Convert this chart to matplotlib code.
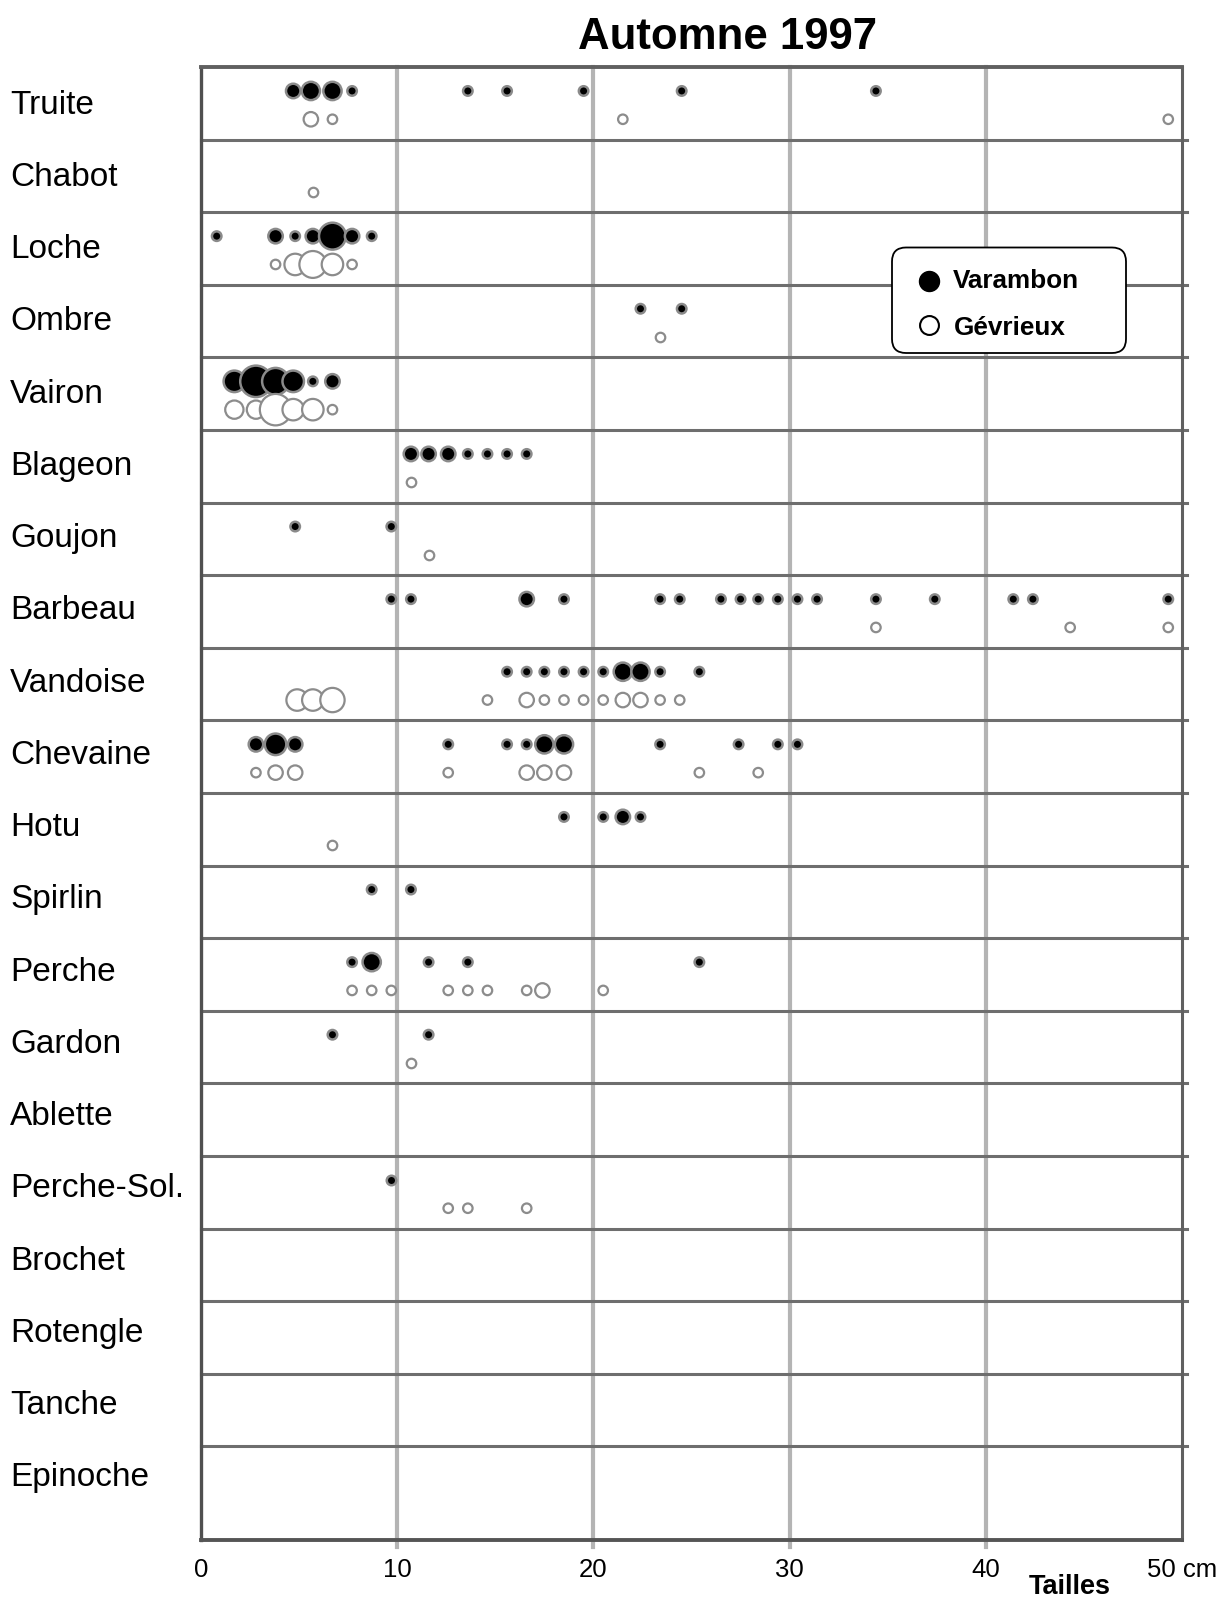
import numpy as np
import matplotlib.pyplot as plt
from matplotlib.patches import FancyBboxPatch
from matplotlib.lines import Line2D
import matplotlib.transforms as mtransforms

plt.rcParams['font.family'] = ['Liberation Sans', 'DejaVu Sans']

especes = ['Truite', 'Chabot', 'Loche', 'Ombre', 'Vairon', 'Blageon', 'Goujon',
           'Barbeau', 'Vandoise', 'Chevaine', 'Hotu', 'Spirlin', 'Perche',
           'Gardon', 'Ablette', 'Perche-Sol.', 'Brochet', 'Rotengle', 'Tanche',
           'Epinoche']

# Varambon : tailles (cm) et effectifs, une liste par espece
var_tailles = [
    [4.7, 5.6, 6.7, 7.7, 13.6, 15.6, 19.5, 24.5, 34.4],          # Truite
    [],                                                          # Chabot
    [0.8, 3.8, 4.8, 5.7, 6.7, 7.7, 8.7],                         # Loche
    [22.4, 24.5],                                                # Ombre
    [1.7, 2.8, 3.8, 4.7, 5.7, 6.7],                              # Vairon
    [10.7, 11.6, 12.6, 13.6, 14.6, 15.6, 16.6],                  # Blageon
    [4.8, 9.7],                                                  # Goujon
    [9.7, 10.7, 16.6, 18.5, 23.4, 24.4, 26.5, 27.5, 28.4, 29.4,
     30.4, 31.4, 34.4, 37.4, 41.4, 42.4, 49.3],                  # Barbeau
    [15.6, 16.6, 17.5, 18.5, 19.5, 20.5, 21.5, 22.4, 23.4, 25.4],  # Vandoise
    [2.8, 3.8, 4.8, 12.6, 15.6, 16.6, 17.5, 18.5, 23.4, 27.4, 29.4, 30.4],  # Chevaine
    [18.5, 20.5, 21.5, 22.4],                                    # Hotu
    [8.7, 10.7],                                                 # Spirlin
    [7.7, 8.7, 11.6, 13.6, 25.4],                                # Perche
    [6.7, 11.6],                                                 # Gardon
    [],                                                          # Ablette
    [9.7],                                                       # Perche-Sol.
    [], [], [], [],
]
var_effectifs = [
    [2, 3, 3, 1, 1, 1, 1, 1, 1],
    [],
    [1, 2, 1, 2, 6, 2, 1],
    [1, 1],
    [4, 8, 6, 4, 1, 2],
    [2, 2, 2, 1, 1, 1, 1],
    [1, 1],
    [1, 1, 2, 1, 1, 1, 1, 1, 1, 1, 1, 1, 1, 1, 1, 1, 1],
    [1, 1, 1, 1, 1, 1, 3, 3, 1, 1],
    [2, 4, 2, 1, 1, 1, 3, 3, 1, 1, 1, 1],
    [1, 1, 2, 1],
    [1, 1],
    [1, 3, 1, 1, 1],
    [1, 1],
    [],
    [1],
    [], [], [], [],
]

# Gevrieux
gev_tailles = [
    [5.6, 6.7, 21.5, 49.3],
    [5.7],
    [3.8, 4.8, 5.7, 6.7, 7.7],
    [23.4],
    [1.7, 2.8, 3.8, 4.7, 5.7, 6.7],
    [10.7],
    [11.6],
    [34.4, 44.3, 49.3],
    [4.9, 5.7, 6.7, 14.6, 16.6, 17.5, 18.5, 19.5, 20.5, 21.5, 22.4, 23.4, 24.4],
    [2.8, 3.8, 4.8, 12.6, 16.6, 17.5, 18.5, 25.4, 28.4],
    [6.7],
    [],
    [7.7, 8.7, 9.7, 12.6, 13.6, 14.6, 16.6, 17.4, 20.5],
    [10.7],
    [],
    [12.6, 13.6, 16.6],
    [], [], [], [],
]
gev_effectifs = [
    [2, 1, 1, 1],
    [1],
    [1, 4, 6, 4, 1],
    [1],
    [3, 3, 8, 4, 4, 1],
    [1],
    [1],
    [1, 1, 1],
    [4, 4, 5, 1, 2, 1, 1, 1, 1, 2, 2, 1, 1],
    [1, 2, 2, 1, 2, 2, 2, 1, 1],
    [1],
    [],
    [1, 1, 1, 1, 1, 1, 1, 2, 1],
    [1],
    [],
    [1, 1, 1],
    [], [], [], [],
]

graduations = [0, 10, 20, 30, 40, 50]
etiquettes = ['0', '10', '20', '30', '40', '50 cm']

W, H = 1219, 1597
fig = plt.figure(figsize=(W / 100, H / 100), dpi=100)
ax = fig.add_axes([201 / W, 57 / H, 981 / W, 1473 / H])

n_rows = len(especes)
ax.set_xlim(0, 50)
ax.set_ylim(n_rows + 0.29, 0)


def taille_marque(n):
    d_px = 12 * np.sqrt(np.asarray(n, dtype=float))
    return ((d_px - 2.5) * 0.72) ** 2


for x in graduations[1:-1]:
    ax.axvline(x, color='#b4b4b4', lw=3, zorder=1, ymin=-0.005, clip_on=False)
for i in range(1, n_rows):
    ax.axhline(i, color='#6e6e6e', lw=2.2, zorder=2, xmax=1.005, clip_on=False)

for i in range(n_rows):
    if var_tailles[i]:
        ax.scatter(var_tailles[i], [i + 0.33] * len(var_tailles[i]),
                   s=taille_marque(var_effectifs[i]), c='black',
                   edgecolors='#8a8a8a', linewidths=1.8, zorder=4)
for i in range(n_rows):
    if gev_tailles[i]:
        ax.scatter(gev_tailles[i], [i + 0.72] * len(gev_tailles[i]),
                   s=taille_marque(gev_effectifs[i]), c='white',
                   edgecolors='#8c8c8c', linewidths=1.6, zorder=5)

for side, col, lw in [('top', '#606060', 2.8), ('left', '#505050', 2.4),
                      ('right', '#606060', 2.2), ('bottom', '#555555', 2.8)]:
    ax.spines[side].set_color(col)
    ax.spines[side].set_linewidth(lw)

ax.set_xticks(graduations)
ax.set_xticklabels(etiquettes, fontsize=18.5)
ax.tick_params(axis='x', length=0, pad=13)
ax.set_yticks([])

trans = mtransforms.blended_transform_factory(fig.transFigure, ax.transData)
for i, nom in enumerate(especes):
    ax.text(10 / W, 0.642 + 0.9952 * i, nom, transform=trans, ha='left',
            va='baseline', fontsize=24)

fig.text(727 / W, 1 - 49 / H, 'Automne 1997', ha='center', va='baseline',
         fontsize=31.5, fontweight='bold')
fig.text(1070 / W, 3 / H, 'Tailles', ha='center', va='baseline',
         fontsize=19.5, fontweight='bold')

# legende
inch = fig.dpi_scale_trans
boite = FancyBboxPatch((892 / 100, (H - 353) / 100), 2.34, 1.055,
                       boxstyle='round,pad=0,rounding_size=0.14',
                       transform=inch, fc='white', ec='black', lw=1.3)
fig.add_artist(boite)
fig.add_artist(Line2D([929 / 100], [(H - 281) / 100], transform=inch,
                      marker='o', ms=14.4, mfc='black', mec='black', mew=1))
fig.add_artist(Line2D([929 / 100], [(H - 325) / 100], transform=inch,
                      marker='o', ms=13.6, mfc='white', mec='black', mew=1.5))
fig.text(953 / 100, (H - 288) / 100, 'Varambon', transform=inch,
         fontsize=18.8, fontweight='bold', va='baseline')
fig.text(954 / 100, (H - 335) / 100, 'Gévrieux', transform=inch,
         fontsize=18.8, fontweight='bold', va='baseline')

fig.savefig('out.png', dpi=100)
